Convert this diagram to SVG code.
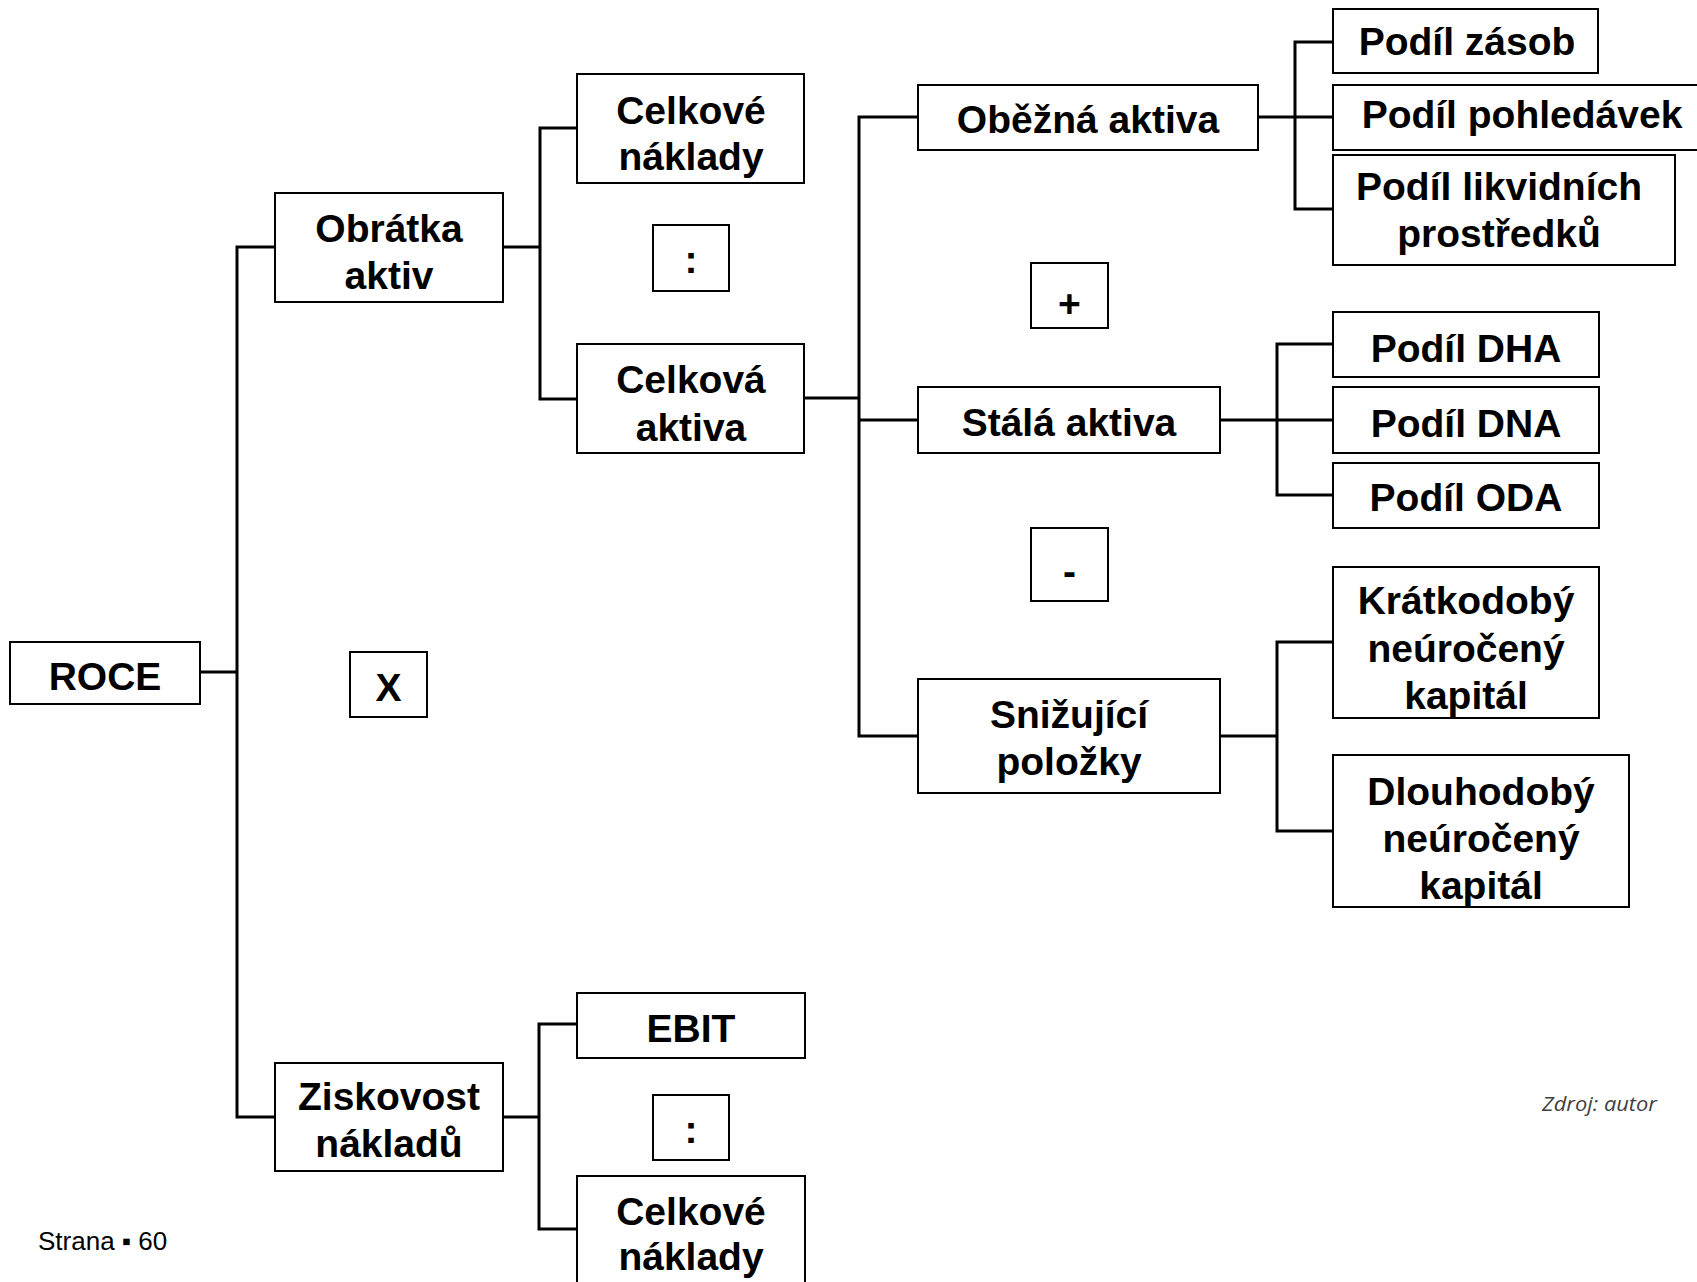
<svg xmlns="http://www.w3.org/2000/svg" width="1697" height="1282" viewBox="0 0 1697 1282">
  <style>
    .box { fill: #ffffff; stroke: #000000; stroke-width: 2; }
    .lbl { font-family: "Liberation Sans", Arial, sans-serif; font-weight: bold; font-size: 39px; fill: #000000; text-anchor: middle; }
    .wire { fill: none; stroke: #000000; stroke-width: 3; stroke-linejoin: miter; stroke-linecap: square; }
    .note { font-family: "Open Sans", "Noto Sans", sans-serif; font-style: italic; font-size: 20px; fill: #404040; }
    .page { font-family: "Liberation Sans", Arial, sans-serif; font-size: 26px; fill: #000000; }
  </style>

  <rect x="0" y="0" width="1697" height="1282" fill="#ffffff"/>

  <!-- tree connectors -->
  <g id="connectors">
    <!-- ROCE -> Obrátka aktiv / Ziskovost nákladů -->
    <path class="wire" d="M200 672 H237 M237 247 V1117 M237 247 H275 M237 1117 H275"/>
    <!-- Obrátka aktiv -> Celkové náklady / Celková aktiva -->
    <path class="wire" d="M503 247 H540 M540 128 V399 M540 128 H577 M540 399 H577"/>
    <!-- Celková aktiva -> Oběžná / Stálá / Snižující -->
    <path class="wire" d="M804 398 H859 M859 117 V736 M859 117 H918 M859 420 H918 M859 736 H918"/>
    <!-- Oběžná aktiva -> shares -->
    <path class="wire" d="M1258 117 H1295 M1295 42 V209 M1295 42 H1333 M1295 117 H1333 M1295 209 H1333"/>
    <!-- Stálá aktiva -> DHA / DNA / ODA -->
    <path class="wire" d="M1220 420 H1277 M1277 344 V495 M1277 344 H1333 M1277 420 H1333 M1277 495 H1333"/>
    <!-- Snižující položky -> neúročený kapitál -->
    <path class="wire" d="M1220 736 H1277 M1277 642 V831 M1277 642 H1333 M1277 831 H1333"/>
    <!-- Ziskovost nákladů -> EBIT / Celkové náklady -->
    <path class="wire" d="M503 1117 H539 M539 1024 V1229 M539 1024 H577 M539 1229 H577"/>
  </g>

  <g id="roce">
    <rect class="box" x="10" y="642" width="190" height="62"/>
    <text class="lbl" x="105" y="690">ROCE</text>
  </g>

  <g id="op-x">
    <rect class="box" x="350" y="652" width="77" height="65"/>
    <text class="lbl" x="388.5" y="701">X</text>
  </g>

  <g id="obratka-aktiv">
    <rect class="box" x="275" y="193" width="228" height="109"/>
    <text class="lbl" x="389" y="242">Obrátka</text>
    <text class="lbl" x="389" y="289">aktiv</text>
  </g>

  <g id="ziskovost-nakladu">
    <rect class="box" x="275" y="1063" width="228" height="108"/>
    <text class="lbl" x="389" y="1110">Ziskovost</text>
    <text class="lbl" x="389" y="1157">nákladů</text>
  </g>

  <g id="celkove-naklady-1">
    <rect class="box" x="577" y="74" width="227" height="109"/>
    <text class="lbl" x="691" y="124">Celkové</text>
    <text class="lbl" x="691" y="170">náklady</text>
  </g>

  <g id="op-div-1">
    <rect class="box" x="653" y="225" width="76" height="66"/>
    <text class="lbl" x="691" y="273">:</text>
  </g>

  <g id="celkova-aktiva">
    <rect class="box" x="577" y="344" width="227" height="109"/>
    <text class="lbl" x="691" y="393">Celková</text>
    <text class="lbl" x="691" y="441">aktiva</text>
  </g>

  <g id="ebit">
    <rect class="box" x="577" y="993" width="228" height="65"/>
    <text class="lbl" x="691" y="1042">EBIT</text>
  </g>

  <g id="op-div-2">
    <rect class="box" x="653" y="1095" width="76" height="65"/>
    <text class="lbl" x="691" y="1143">:</text>
  </g>

  <g id="celkove-naklady-2">
    <rect class="box" x="577" y="1176" width="228" height="120"/>
    <text class="lbl" x="691" y="1225">Celkové</text>
    <text class="lbl" x="691" y="1270">náklady</text>
  </g>

  <g id="obezna-aktiva">
    <rect class="box" x="918" y="85" width="340" height="65"/>
    <text class="lbl" x="1088" y="133">Oběžná aktiva</text>
  </g>

  <g id="op-plus">
    <rect class="box" x="1031" y="263" width="77" height="65"/>
    <text class="lbl" x="1069.5" y="317">+</text>
  </g>

  <g id="stala-aktiva">
    <rect class="box" x="918" y="387" width="302" height="66"/>
    <text class="lbl" x="1069" y="436">Stálá aktiva</text>
  </g>

  <g id="op-minus">
    <rect class="box" x="1031" y="528" width="77" height="73"/>
    <text class="lbl" x="1069.5" y="585">-</text>
  </g>

  <g id="snizujici-polozky">
    <rect class="box" x="918" y="679" width="302" height="114"/>
    <text class="lbl" x="1069" y="728">Snižující</text>
    <text class="lbl" x="1069" y="775">položky</text>
  </g>

  <g id="podil-zasob">
    <rect class="box" x="1333" y="9" width="265" height="64"/>
    <text class="lbl" x="1467" y="55">Podíl zásob</text>
  </g>

  <g id="podil-pohledavek">
    <rect class="box" x="1333" y="85" width="370" height="65"/>
    <text class="lbl" x="1522" y="128">Podíl pohledávek</text>
  </g>

  <g id="podil-likvidnich">
    <rect class="box" x="1333" y="155" width="342" height="110"/>
    <text class="lbl" x="1499" y="200">Podíl likvidních</text>
    <text class="lbl" x="1499" y="247">prostředků</text>
  </g>

  <g id="podil-dha">
    <rect class="box" x="1333" y="312" width="266" height="65"/>
    <text class="lbl" x="1466" y="362">Podíl DHA</text>
  </g>

  <g id="podil-dna">
    <rect class="box" x="1333" y="387" width="266" height="66"/>
    <text class="lbl" x="1466" y="437">Podíl DNA</text>
  </g>

  <g id="podil-oda">
    <rect class="box" x="1333" y="463" width="266" height="65"/>
    <text class="lbl" x="1466" y="511">Podíl ODA</text>
  </g>

  <g id="kratkodoby-kapital">
    <rect class="box" x="1333" y="567" width="266" height="151"/>
    <text class="lbl" x="1466" y="614">Krátkodobý</text>
    <text class="lbl" x="1466" y="662">neúročený</text>
    <text class="lbl" x="1466" y="709">kapitál</text>
  </g>

  <g id="dlouhodoby-kapital">
    <rect class="box" x="1333" y="755" width="296" height="152"/>
    <text class="lbl" x="1481" y="805">Dlouhodobý</text>
    <text class="lbl" x="1481" y="852">neúročený</text>
    <text class="lbl" x="1481" y="899">kapitál</text>
  </g>

  <text class="note" x="1542" y="1111" textLength="115" lengthAdjust="spacingAndGlyphs">Zdroj: autor</text>
  <text class="page" x="38" y="1250">Strana ▪ 60</text>
</svg>
